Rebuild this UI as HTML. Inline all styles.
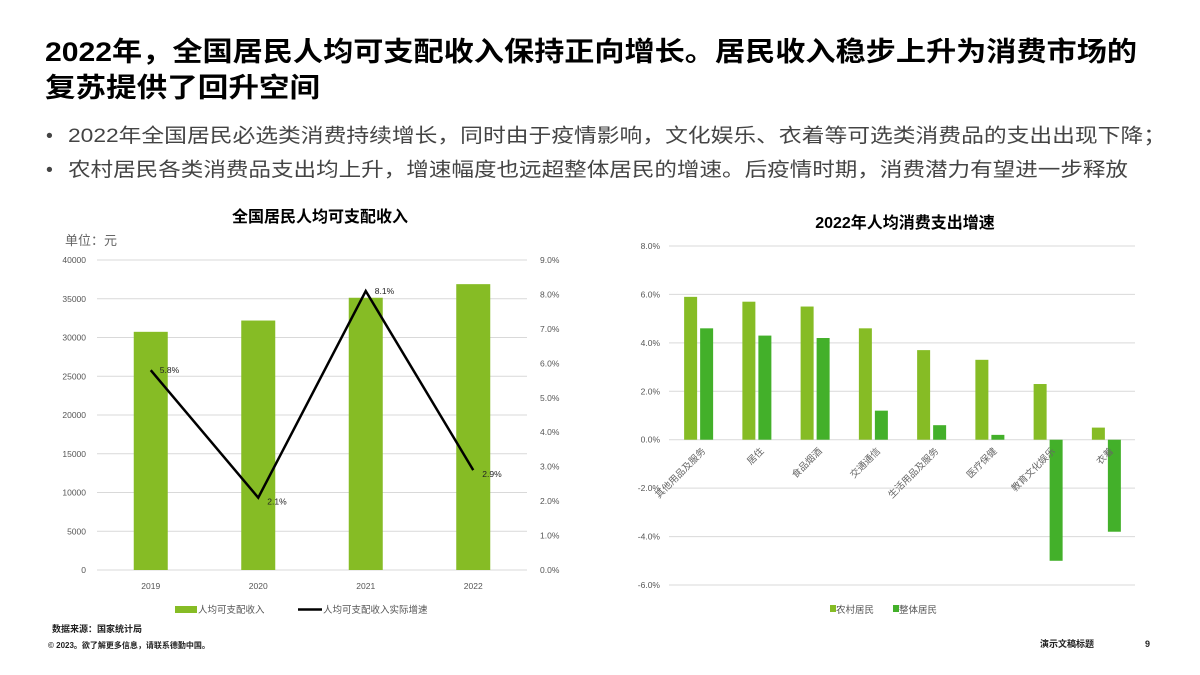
<!DOCTYPE html>
<html><head><meta charset="utf-8">
<style>
html,body{margin:0;padding:0;background:#fff;}
svg{display:block;font-family:"Liberation Sans","Noto Sans CJK SC",sans-serif;}
</style></head>
<body>
<svg id="s" width="1200" height="675" viewBox="0 0 1200 675" xmlns="http://www.w3.org/2000/svg">
<g font-weight="bold" font-size="27" fill="#000">
<text x="45" y="61" textLength="1092" lengthAdjust="spacingAndGlyphs">2022年，全国居民人均可支配收入保持正向增长。居民收入稳步上升为消费市场的</text>
<text x="45" y="97" textLength="275" lengthAdjust="spacingAndGlyphs">复苏提供了回升空间</text>
</g>
<g font-size="19.5" fill="#444">
<text x="46" y="142">•</text>
<text x="68" y="142" textLength="1098" lengthAdjust="spacingAndGlyphs">2022年全国居民必选类消费持续增长，同时由于疫情影响，文化娱乐、衣着等可选类消费品的支出出现下降；</text>
<text x="46" y="176">•</text>
<text x="68" y="176" textLength="1060" lengthAdjust="spacingAndGlyphs">农村居民各类消费品支出均上升，增速幅度也远超整体居民的增速。后疫情时期，消费潜力有望进一步释放</text>
</g>
<text x="320" y="222" font-size="16" font-weight="bold" text-anchor="middle">全国居民人均可支配收入</text>
<text x="65" y="245" font-size="13" fill="#666">单位：元</text>
<g id="left"></g>
<text x="905" y="228" font-size="16" font-weight="bold" text-anchor="middle">2022年人均消费支出增速</text>
<g id="right"></g>
<text x="52" y="632" font-size="9" font-weight="bold" fill="#222">数据来源：国家统计局</text>
<text x="48" y="648" font-size="8" font-weight="bold" fill="#222">© 2023。欲了解更多信息，请联系德勤中国。</text>
<text x="1040" y="647" font-size="9" font-weight="bold" fill="#222">演示文稿标题</text>
<text x="1145" y="647" font-size="9" font-weight="bold" fill="#222">9</text>
</svg>
<script>
const NS="http://www.w3.org/2000/svg";
const years=["2019","2020","2021","2022"];
const income=[30733,32189,35128,36883];
const growth=[5.8,2.1,8.1,2.9];
const leftTicks=[0,5000,10000,15000,20000,25000,30000,35000,40000];
const rightTicks=[0,1,2,3,4,5,6,7,8,9];
const cats=["其他用品及服务","居住","食品烟酒","交通通信","生活用品及服务","医疗保健","教育文化娱乐","衣着"];
const rural=[5.9,5.7,5.5,4.6,3.7,3.3,2.3,0.5];
const overall=[4.6,4.3,4.2,1.2,0.6,0.2,-5.0,-3.8];
const pctTicks=[-6,-4,-2,0,2,4,6,8];

function mk(parent,tag,attrs,txt){const e=document.createElementNS(NS,tag);for(const k in attrs)e.setAttribute(k,attrs[k]);if(txt!==undefined)e.textContent=txt;parent.appendChild(e);return e;}

// Left chart
const L=document.getElementById('left');
const lx0=97,lx1=527,ly0=570,ly1=260;
const yL=v=>ly0-(v/40000)*(ly0-ly1);
const yR=v=>ly0-(v/9)*(ly0-ly1);
const lband=(lx1-lx0)/years.length;
const xL=i=>lx0+lband*(i+0.5);
leftTicks.forEach(t=>{
  const g=mk(L,'line',{x1:lx0,x2:lx1,y1:yL(t),y2:yL(t),stroke:'#d9d9d9','stroke-width':1});
  
  
  const tx=mk(L,'text',{x:86,y:yL(t)+3,'font-size':8.5,fill:'#555','text-anchor':'end'},t);
  
  
});
rightTicks.forEach(t=>{
  const tx=mk(L,'text',{x:540,y:yR(t)+3,'font-size':8.5,fill:'#555'},t.toFixed(1)+'%');
  
  
});
years.forEach((y,i)=>{
  const b=mk(L,'rect',{x:xL(i)-17,y:yL(income[i]),width:34,height:ly0-yL(income[i]),fill:'#86bc25'});
  
  
  const tx=mk(L,'text',{x:xL(i),y:589,'font-size':8.5,fill:'#555','text-anchor':'middle'},y);
  
  
});
const pts=growth.map((v,i)=>xL(i)+','+yR(v)).join(' ');
const pl=mk(L,'polyline',{points:pts,fill:'none',stroke:'#000','stroke-width':2.5});


growth.forEach((v,i)=>{
  const tx=mk(L,'text',{x:xL(i)+9,y:yR(v)+(i==1||i==3?7:3),'font-size':8.5,fill:'#222'},v.toFixed(1)+'%');
  
  
});
const lg1=mk(L,'rect',{x:175,y:606,width:22,height:7,fill:'#86bc25'});


const lt1=mk(L,'text',{x:198,y:613,'font-size':9.5,fill:'#555'},'人均可支配收入');


const lg2=mk(L,'line',{x1:298,x2:322,y1:609.5,y2:609.5,stroke:'#000','stroke-width':2.5});


const lt2=mk(L,'text',{x:323,y:613,'font-size':9.5,fill:'#555'},'人均可支配收入实际增速');



// Right chart
const R=document.getElementById('right');
const rx0=669,rx1=1135,ry8=246,ryn6=585;
const yP=v=>ry8+(8-v)/14*(ryn6-ry8);
const band=(rx1-rx0)/cats.length;
const xC=i=>rx0+band*(i+0.5);
pctTicks.forEach(t=>{
  const g=mk(R,'line',{x1:rx0,x2:rx1,y1:yP(t),y2:yP(t),stroke:'#d9d9d9','stroke-width':1});
  
  
  const tx=mk(R,'text',{x:660,y:yP(t)+3,'font-size':8.5,fill:'#555','text-anchor':'end'},t.toFixed(1)+'%');
  
  
});
cats.forEach((c,i)=>{
  const cx=xC(i);
  const a=rural[i],b=overall[i];
  const r1=mk(R,'rect',{x:cx-14,y:Math.min(yP(a),yP(0)),width:13,height:Math.abs(yP(a)-yP(0)),fill:'#86bc25'});
  
  
  const r2=mk(R,'rect',{x:cx+2,y:Math.min(yP(b),yP(0)),width:13,height:Math.abs(yP(b)-yP(0)),fill:'#43b02a'});
  
  
  const tx=mk(R,'text',{x:cx+8,y:yP(0)+12,'font-size':9.5,fill:'#666','text-anchor':'end',transform:`rotate(-45 ${cx+8} ${yP(0)+12})`},c);
  
  
});
const s1=mk(R,'rect',{x:830,y:605,width:6,height:7,fill:'#86bc25'});


const t1=mk(R,'text',{x:836,y:613,'font-size':9.5,fill:'#555'},'农村居民');


const s2=mk(R,'rect',{x:893,y:605,width:6,height:7,fill:'#43b02a'});


const t2=mk(R,'text',{x:899,y:613,'font-size':9.5,fill:'#555'},'整体居民');


</script>
</body></html>
